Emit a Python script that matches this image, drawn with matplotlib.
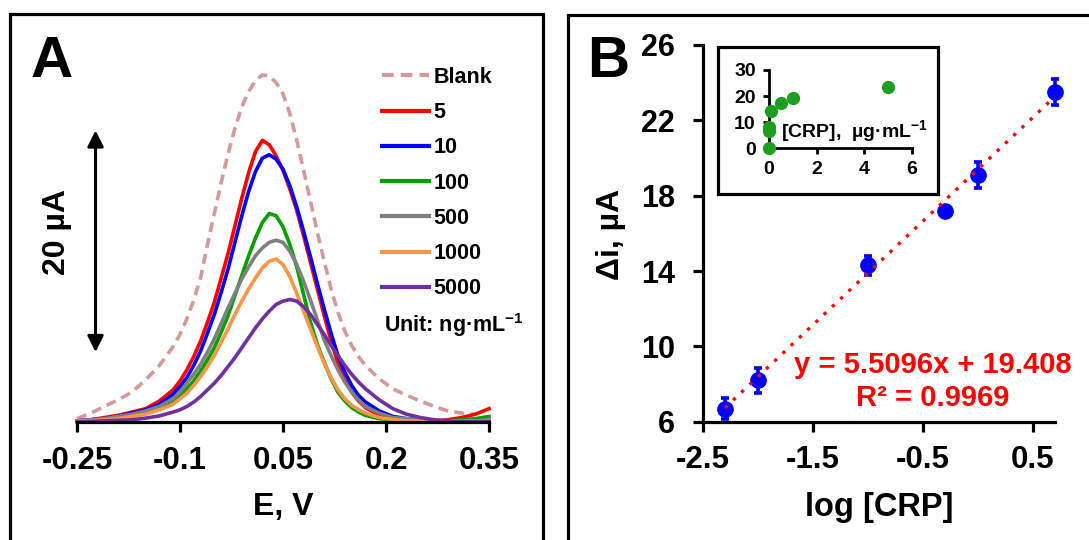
import numpy as np
import matplotlib.pyplot as plt
from matplotlib.patches import Rectangle

plt.rcParams['font.family'] = ['Liberation Sans', 'DejaVu Sans']
plt.rcParams['font.weight'] = 'bold'
plt.rcParams['axes.labelweight'] = 'bold'
plt.rcParams['axes.unicode_minus'] = False
plt.rcParams['mathtext.fontset'] = 'custom'
plt.rcParams['mathtext.rm'] = 'Liberation Sans:bold'
plt.rcParams['mathtext.bf'] = 'Liberation Sans:bold'

# ---- panel A: SWV curves (E in V, current in uA above baseline) ----
# coarse in the tails, finer around the peaks
potential = np.round(np.concatenate([np.arange(-0.25, -0.105, 0.02),
                                     np.arange(-0.10, 0.175, 0.01),
                                     np.arange(0.19, 0.355, 0.02)]), 2)

i_blank = [0.3, 0.8, 1.4, 2.0, 2.7, 3.8, 5.1, 6.8,
           7.9, 9.3, 11.0, 13.0, 16.0, 18.8, 21.6, 24.2, 26.5, 28.4, 29.8, 30.8, 31.3, 31.2,
           30.6, 29.6, 27.8, 25.4, 22.7, 19.9, 17.1, 14.5, 12.0, 9.9, 8.2, 6.9, 5.9, 5.1,
           3.9, 3.0, 2.4, 1.9, 1.4, 1.0, 0.8, 0.7, np.nan]
i_5 = [0.1, 0.2, 0.4, 0.6, 0.9, 1.2, 1.9, 2.9,
       3.7, 4.7, 5.9, 7.3, 9.0, 10.8, 13.0, 15.2, 17.7, 20.2, 22.5, 24.4, 25.4, 25.0,
       24.0, 22.7, 21.0, 19.1, 16.8, 14.4, 12.0, 9.6, 7.3, 5.3, 3.8, 2.7, 1.9, 1.3,
       0.6, 0.3, 0.2, 0.1, 0.1, 0.2, 0.4, 0.7, 1.2]
i_10 = [0.1, 0.2, 0.3, 0.5, 0.8, 1.1, 1.6, 2.5,
        3.2, 4.0, 5.1, 6.4, 8.0, 9.7, 11.7, 13.8, 16.2, 18.6, 20.8, 22.6, 23.8, 24.1,
        23.7, 22.8, 21.3, 19.4, 17.2, 14.9, 12.5, 10.2, 8.0, 6.0, 4.5, 3.3, 2.4, 1.8,
        1.0, 0.5, 0.3, 0.2, 0.1, 0.1, 0.1, 0.1, 0.1]
i_100 = [0.1, 0.1, 0.2, 0.4, 0.6, 0.9, 1.3, 1.9,
         2.4, 3.0, 3.7, 4.6, 5.6, 6.7, 8.1, 9.6, 11.4, 13.2, 15.0, 16.6, 18.0, 18.8,
         18.6, 17.6, 16.0, 14.0, 11.5, 9.0, 7.0, 5.4, 3.9, 2.7, 1.9, 1.3, 0.9, 0.6,
         0.3, 0.2, 0.1, 0.1, 0.1, 0.1, 0.2, 0.3, 0.5]
i_500 = [0.1, 0.2, 0.3, 0.5, 0.7, 1.0, 1.4, 2.1,
         2.7, 3.5, 4.3, 5.2, 6.3, 7.5, 8.9, 10.3, 11.6, 12.9, 14.0, 15.0, 15.7, 16.2,
         16.4, 16.2, 15.4, 14.2, 12.7, 11.0, 9.2, 7.4, 6.0, 4.7, 3.6, 2.7, 2.0, 1.4,
         0.8, 0.4, 0.3, 0.2, 0.1, 0.1, 0.1, 0.1, 0.2]
i_1000 = [0.05, 0.1, 0.2, 0.3, 0.5, 0.7, 1.1, 1.6,
          2.1, 2.6, 3.3, 4.1, 5.0, 6.0, 7.2, 8.4, 9.7, 10.9, 12.0, 13.0, 13.9, 14.5,
          14.7, 14.2, 13.1, 11.6, 10.0, 8.4, 6.8, 5.3, 4.0, 2.9, 2.1, 1.5, 1.1, 0.8,
          0.4, 0.2, 0.1, 0.1, 0.1, 0.1, 0.1, 0.1, 0.1]
i_5000 = [0.0, 0.05, 0.1, 0.15, 0.2, 0.35, 0.55, 0.9,
          1.1, 1.4, 1.8, 2.3, 2.9, 3.5, 4.2, 5.0, 5.8, 6.7, 7.6, 8.5, 9.3, 10.0,
          10.6, 10.9, 11.05, 10.9, 10.4, 9.7, 8.8, 7.9, 6.9, 6.0, 5.1, 4.3, 3.6, 3.0,
          2.0, 1.2, 0.7, 0.4, 0.2, 0.1, 0.05, 0.05, 0.05]

curves = [i_blank, i_5, i_10, i_100, i_500, i_1000, i_5000]
curve_labels = ['Blank', '5', '10', '100', '500', '1000', '5000']
curve_colors = ['#D49A9A', '#FF0000', '#0000FF', '#00A000', '#808080', '#F79646', '#7030A0']
xticks_a = [-0.25, -0.1, 0.05, 0.2, 0.35]

# ---- panel B: calibration ----
log_crp = [-2.301, -2.0, -1.0, -0.301, 0.0, 0.699]
delta_i = [6.7, 8.2, 14.3, 17.2, 19.1, 23.5]
delta_i_err = [0.55, 0.65, 0.5, 0.25, 0.7, 0.7]
slope, intercept = 5.5096, 19.408

# inset: raw concentration in ug/mL
crp_ug = [0, 0.005, 0.01, 0.1, 0.5, 1, 5]
inset_i = [0, 6.7, 8.2, 14.3, 17.2, 19.1, 23.5]

W, H = 1089, 540
fig = plt.figure(figsize=(W / 100, H / 100), dpi=100)


def fx(px):
    return px / W


def fy(py):
    return 1 - py / H


# panel frames
fig.add_artist(Rectangle((fx(10), -0.05), fx(533), fy(14) + 0.05, transform=fig.transFigure,
                         fill=False, lw=2.3, ec='black', clip_on=False))
fig.add_artist(Rectangle((fx(568), -0.05), 0.5, fy(15) + 0.05, transform=fig.transFigure,
                         fill=False, lw=2.3, ec='black', clip_on=False))

# ---------- A ----------
axA = fig.add_axes([fx(77), fy(422), fx(412), 377 / H])
for y, lab, col in zip(curves, curve_labels, curve_colors):
    if lab == 'Blank':
        axA.plot(potential, y, color=col, lw=2.6, dashes=(2.8, 1.7), label=lab, clip_on=False)
    else:
        axA.plot(potential, y, color=col, lw=2.6, label=lab, clip_on=False,
                 solid_joinstyle='round')
axA.set_xlim(-0.25, 0.35)
axA.set_ylim(0, 34)
axA.set_xticks(xticks_a)
axA.set_xticklabels(['-0.25', '-0.1', '0.05', '0.2', '0.35'])
axA.set_yticks([])
for s in ['left', 'top', 'right']:
    axA.spines[s].set_visible(False)
axA.spines['bottom'].set_linewidth(2.3)
axA.tick_params(axis='x', length=7, width=2.3, pad=10, labelsize=22.5, direction='out')
axA.set_xlabel('E, V', fontsize=23, labelpad=12)
axA.patch.set_alpha(0)

leg = axA.legend(loc='upper left', bbox_to_anchor=(fx(382), fy(67)), bbox_transform=fig.transFigure,
                 frameon=False, fontsize=15.5, handlelength=2.2, handletextpad=0.2,
                 labelspacing=0.66, borderpad=0, borderaxespad=0)
for ln in leg.get_lines():
    ln.set_linewidth(3.0)
fig.text(fx(384), fy(325), r'Unit: ng·mL$^{-1}$', fontsize=15.5, va='center', ha='left')

# 20 uA scale bar
axA.annotate('', xy=(-0.223, 26.3), xytext=(-0.223, 6.3),
             arrowprops=dict(arrowstyle='<|-|>', color='black', lw=2.2, mutation_scale=24,
                             shrinkA=0, shrinkB=0), annotation_clip=False)
axA.text(-0.279, 17.1, '20 µA', rotation=90, ha='center', va='center', fontsize=23, clip_on=False)

fig.text(fx(52), fy(62), 'A', fontsize=42, ha='center', va='center')
fig.text(fx(608), fy(62), 'B', fontsize=42, ha='center', va='center')

# ---------- B ----------
axB = fig.add_axes([fx(703), fy(421.7), fx(352), 376.7 / H])
axB.errorbar(log_crp, delta_i, yerr=delta_i_err, fmt='o', color='#0000FF', ms=11,
             elinewidth=2.6, capsize=3, capthick=2.6, clip_on=False, zorder=3)
fit_x = np.array([log_crp[0], log_crp[-1]])
axB.plot(fit_x, slope * fit_x + intercept, color='#FF0000', ls=(0, (1, 2.4)), lw=2.4, zorder=4)
axB.set_xlim(-2.5, 0.7)
axB.set_ylim(6, 26)
axB.set_xticks([-2.5, -1.5, -0.5, 0.5])
axB.set_yticks([6, 10, 14, 18, 22, 26])
for s in ['top', 'right']:
    axB.spines[s].set_visible(False)
for s in ['left', 'bottom']:
    axB.spines[s].set_linewidth(2.3)
axB.tick_params(axis='x', length=7, width=2.3, pad=10, labelsize=22.5, direction='out')
axB.tick_params(axis='y', length=7, width=2.3, pad=13, labelsize=22, direction='out')
axB.set_xlabel('log [CRP]', fontsize=23.5, labelpad=12)
axB.set_ylabel('Δi, µA', fontsize=23)
axB.yaxis.set_label_coords(-0.219, 0.498)
axB.patch.set_alpha(0)

fig.text(fx(933), fy(365), 'y = 5.5096x + 19.408', color='#FF0000', fontsize=21, ha='center', va='center')
fig.text(fx(933), fy(398), 'R² = 0.9969', color='#FF0000', fontsize=21, ha='center', va='center')

# inset
fig.add_artist(Rectangle((fx(718), fy(194)), fx(220), 147.3 / H, transform=fig.transFigure,
                         fill=True, fc='white', lw=2.3, ec='black', zorder=5))
axI = fig.add_axes([fx(769), fy(148.3), fx(142.7), 78.3 / H], zorder=6)
axI.plot(crp_ug, inset_i, 'o', color='#1E9E1E', ms=8.5, clip_on=False, zorder=3)
axI.set_xlim(0, 6)
axI.set_ylim(0, 30)
axI.set_xticks([0, 2, 4, 6])
axI.set_yticks([0, 10, 20, 30])
for s in ['top', 'right']:
    axI.spines[s].set_visible(False)
for s in ['left', 'bottom']:
    axI.spines[s].set_linewidth(2.0)
axI.tick_params(length=4.5, width=2.0, labelsize=14, direction='out')
axI.tick_params(axis='x', pad=5)
axI.tick_params(axis='y', pad=5)
axI.patch.set_alpha(0)
axI.text(0.5, 6.2, r'[CRP],  µg·mL$^{-1}$', fontsize=14, ha='left', va='center')

fig.savefig('out.png', dpi=100)
